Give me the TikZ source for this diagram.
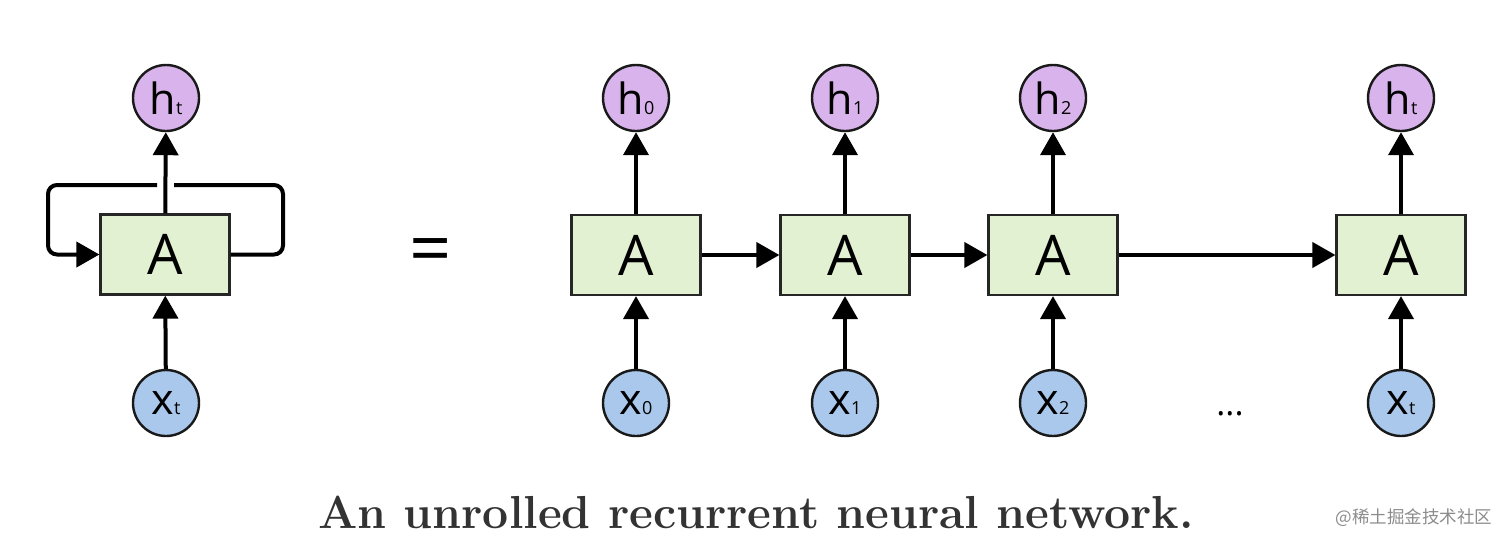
\documentclass[tikz,border=0pt]{standalone}
\usepackage{fontspec}
\setsansfont{Open Sans}
\newfontfamily\cjkfont{Noto Sans CJK SC}
\usetikzlibrary{arrows.meta}
\definecolor{hcol}{HTML}{D9B3EB}
\definecolor{xcol}{HTML}{A9C8EB}
\definecolor{acol}{HTML}{E2F1D2}
\definecolor{capcol}{HTML}{333333}
\tikzset{
  cell/.style={draw=black!85, line width=2.2pt, fill=acol, minimum width=129pt, minimum height=80pt, inner sep=0pt, font=\sffamily\fontsize{56}{60}\selectfont},
  hnode/.style={circle, draw=black!90, line width=2.4pt, fill=hcol, minimum size=66pt, inner sep=0pt, font=\sffamily\fontsize{43}{44}\selectfont},
  xnode/.style={circle, draw=black!90, line width=2.4pt, fill=xcol, minimum size=66pt, inner sep=0pt, font=\sffamily\fontsize{43}{44}\selectfont},
  arr/.style={line width=4pt, -{Triangle[length=23pt,width=25pt]}},
  conn/.style={line width=4pt},
}
\newcommand{\sub}[1]{{\fontsize{18}{18}\selectfont #1}}
\begin{document}
\begin{tikzpicture}[x=1pt,y=-1pt]
\useasboundingbox[fill=white] (0,0) rectangle (1512,544);
% left folded network
\node[cell] (LA) at (165,254.5) {A};
\node[hnode] (Lh) at (166,98) {h\sub{t}};
\node[xnode] (Lx) at (166,403) {x\sub{t}};
\draw[arr] (Lx) -- (LA);
\draw[arr] (LA) -- (Lh);
\coordinate (lt) at (157,185);
\coordinate (rt) at (174,185);
\coordinate (cTL) at (48,185);
\coordinate (cBL) at (48,254.5);
\coordinate (cTR) at (283,185);
\coordinate (cBR) at (283,254.5);
\draw[conn, rounded corners=9pt] (LA.east) -- (cBR) -- (cTR) -- (rt);
\draw[arr, rounded corners=9pt] (lt) -- (cTL) -- (cBL) -- (LA.west);
% equals
\node[font=\sffamily\fontsize{74}{74}\selectfont, inner sep=0pt] (eq) at (431,257) {=};
% unrolled
\foreach \n/\x/\s in {0/636/0,1/845/1,2/1053/2,3/1401/t}{
  \node[cell] (A\n) at (\x,255) {A};
  \node[hnode] (h\n) at (\x,98) {h\sub{\s}};
  \node[xnode] (x\n) at (\x,403) {x\sub{\s}};
  \draw[arr] (x\n) -- (A\n);
  \draw[arr] (A\n) -- (h\n);
}
\draw[arr] (A0) -- (A1);
\draw[arr] (A1) -- (A2);
\draw[arr] (A2) -- (A3);
\node[font=\sffamily\fontsize{34}{34}\selectfont, inner sep=0pt] (dots) at (1230,414) {...};
% caption
\node[font=\bfseries\fontsize{46.3}{50}\selectfont, text=capcol, inner sep=0pt] (cap) at (756,512) {An unrolled recurrent neural network.};
\node[font=\cjkfont\fontsize{17.5}{18}\selectfont, text=black!45, inner sep=0pt] (wm) at (1414,518) {@稀土掘金技术社区};
\end{tikzpicture}
\end{document}
